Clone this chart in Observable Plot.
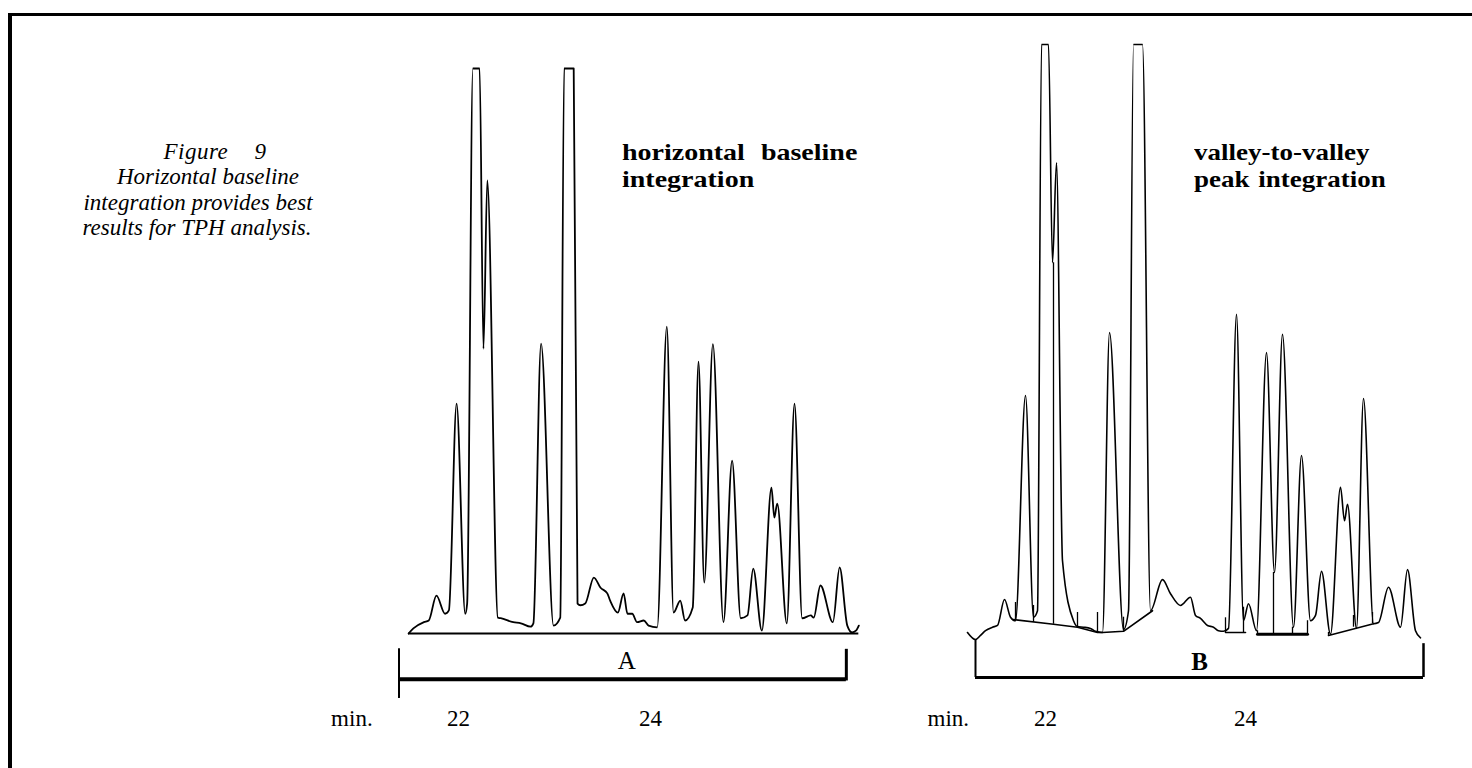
<!DOCTYPE html>
<html>
<head>
<meta charset="utf-8">
<script src="https://cdn.jsdelivr.net/npm/d3@7"></script>
<script src="https://cdn.jsdelivr.net/npm/@observablehq/plot@0.6"></script>
<style>
  html, body { margin: 0; padding: 0; background: #fff; }
  #page { position: relative; width: 1472px; height: 768px; overflow: hidden; background: #fff;
          font-family: "Liberation Serif", "Times New Roman", serif; color: #000; }
  .frame-left { position: absolute; left: 8px; top: 13px; width: 4px; height: 755px; background: #000; }
  .frame-top { position: absolute; left: 8px; top: 13px; width: 1464px; height: 3px; background: #000; }
  #caption { position: absolute; left: 0px; top: 139px; width: 406px; text-align: center;
             font-style: italic; font-size: 23px; line-height: 25.3px; }
  #caption div { position: relative; white-space: nowrap; }
  .heading { position: absolute; font-weight: bold; line-height: 30.6px; white-space: nowrap;
             transform: scaleY(0.85); transform-origin: 0 0; }
  .panel { position: absolute; left: 0; top: 0; }
</style>
</head>
<body>
<div id="page">
  <div class="frame-left"></div>
  <div class="frame-top"></div>
  <div id="caption">
    <div style="left:12px; letter-spacing:0.5px; word-spacing:20px;">Figure 9</div>
    <div style="left:5px;">Horizontal baseline</div>
    <div style="left:-5px;">integration provides best</div>
    <div style="left:-6px;">results for TPH analysis.</div>
  </div>
  <div class="heading" style="left:622px; top:140px; font-size:28px; word-spacing:9px;">horizontal baseline<br>integration</div>
  <div class="heading" style="left:1194px; top:140.3px; font-size:27px; word-spacing:2px;">valley-to-valley<br>peak integration</div>
</div>
<script>
// ---------- Panel A: horizontal baseline integration ----------
// retention time (min) and detector signal (% of full scale, 100 = off-scale)
const aTime = [21.48, 21.53, 21.64, 21.69, 21.77, 21.86, 21.90, 21.98, 22.07, 22.09,
  22.15, 22.22, 22.26, 22.30, 22.41, 22.44, 22.57, 22.65, 22.75, 22.78,
  22.86, 22.99, 23.06, 23.10, 23.20, 23.24, 23.27, 23.32, 23.41, 23.48,
  23.55, 23.58, 23.66, 23.72, 23.76, 23.81, 23.86, 23.93, 23.98, 24.07,
  24.17, 24.24, 24.31, 24.36, 24.44, 24.50, 24.56, 24.65, 24.76, 24.85,
  24.94, 25.01, 25.07, 25.16, 25.26, 25.29, 25.32, 25.42, 25.50, 25.58,
  25.67, 25.70, 25.77, 25.90, 25.97, 26.05, 26.10, 26.14, 26.17];
const aSignal = [0.0, 0.9, 2.0, 2.3, 6.7, 3.5, 4.1, 40.7, 3.5, 5.3,
  100, 100, 50.4, 80.2, 2.8, 2.7, 2.0, 1.8, 1.2, 1.8,
  51.3, 1.4, 2.8, 100, 100, 5.3, 5.0, 5.3, 9.9, 8.1,
  7.1, 5.8, 3.7, 7.1, 3.5, 3.5, 2.0, 2.3, 1.4, 1.1,
  54.3, 3.7, 5.8, 2.3, 4.6, 48.1, 9.0, 51.2, 2.0, 30.6,
  2.7, 3.2, 11.5, 0.5, 25.8, 20.5, 23.0, 1.8, 40.7, 2.7,
  3.2, 2.8, 8.5, 2.0, 11.7, 1.4, 0.2, 0.5, 1.4];
const aBaseline = [21.48, 26.17];          // horizontal baseline start / end (min)
const aBracket = [21.38, 26.04];           // integration window A (min)
const aBracketLabel = ["A"];
const aTicks = [22, 24];

// ---------- Panel B: valley-to-valley peak integration ----------
const bTime = [21.22, 21.30, 21.35, 21.40, 21.47, 21.52, 21.59, 21.65, 21.70, 21.80,
  21.88, 21.92, 21.96, 22.03, 22.07, 22.11, 22.17, 22.28, 22.32, 22.38,
  22.45, 22.50, 22.57, 22.64, 22.78, 22.83, 22.88, 22.97, 23.05, 23.17,
  23.25, 23.35, 23.45, 23.50, 23.55, 23.62, 23.68, 23.73, 23.78, 23.83,
  23.91, 23.98, 24.03, 24.11, 24.21, 24.29, 24.37, 24.48, 24.56, 24.65,
  24.70, 24.76, 24.85, 24.95, 24.99, 25.02, 25.11, 25.18, 25.28, 25.33,
  25.43, 25.55, 25.62, 25.70, 25.75];
const bSignal = [0.0, -1.2, -0.5, 0.3, 0.9, 1.2, 5.6, 2.6, 2.0, 40.3,
  2.6, 3.7, 100, 100, 62.9, 79.9, 12.2, 2.0, 1.0, 0.9,
  0.7, 0.2, 0.0, 51.0, 0.5, 3.7, 100, 100, 3.7, 9.0,
  6.6, 4.6, 6.0, 2.9, 2.4, 1.2, 0.9, 0.3, 0.2, 0.7,
  54.1, 2.0, 4.9, 0.3, 47.6, 10.2, 50.7, 0.9, 30.1, 2.0,
  2.9, 10.4, -0.3, 24.7, 19.0, 21.8, 0.7, 39.8, 1.5, 1.7,
  7.7, 0.9, 10.7, 0.3, -0.9];
// valley-to-valley baseline segments
const bBaseSegment = [1, 1, 1, 1, 1, 1, 1, 2, 2, 3, 3, 4, 4];
const bBaseTime = [21.68, 22.08, 22.32, 22.52, 22.57, 22.78, 23.07, 23.80, 24.00, 24.12, 24.62, 24.83, 25.28];
const bBaseSignal = [2.2, 1.4, 0.9, 0.0, 0.0, 0.2, 3.7, 0.0, 0.0, -0.3, -0.3, -0.5, 1.5];
// perpendicular drop lines from the baseline to the valleys
const bDropTime = [21.70, 21.88, 22.08, 22.32, 22.52, 22.78, 23.80, 23.98, 24.12, 24.28, 24.47, 24.62, 24.83, 25.08, 25.27];
const bDropLow = [2.2, 1.7, 1.4, 0.9, 0.0, 0.2, 0.0, 0.0, -0.3, -0.3, -0.3, -0.3, -0.5, 0.9, 1.5];
const bDropHigh = [5.1, 4.6, 62.9, 3.4, 3.4, 2.6, 2.5, 4.3, 0.3, 10.2, 0.9, 2.0, 0.0, 2.9, 3.4];
const bBracket = [21.30, 25.78];
const bBracketLabel = ["B"];
const bTicks = [22, 24];

const W = 1472, H = 768;
const font = '"Liberation Serif", "Times New Roman", serif';
const aTrace = aTime.map((t, i) => ({t, s: aSignal[i]}));
const bTrace = bTime.map((t, i) => ({t, s: bSignal[i]}));
const bBase = bBaseTime.map((t, i) => ({t, s: bBaseSignal[i], seg: bBaseSegment[i]}));
const bDrops = bDropTime.map((t, i) => ({t, lo: bDropLow[i], hi: bDropHigh[i]}));

const page = document.getElementById("page");

const plotA = Plot.plot({
  width: W, height: H,
  marginLeft: 395.6, marginRight: W - 866, marginTop: 68, marginBottom: H - 633,
  x: {domain: [21.35, 26.25], axis: null},
  y: {domain: [0, 100], axis: null},
  style: {background: "transparent", overflow: "visible", fontFamily: font, color: "#000"},
  marks: [
    Plot.ruleY([0], {x1: aBaseline[0], x2: aBaseline[1], stroke: "#000", strokeWidth: 2}),
    Plot.line(aTrace, {x: "t", y: "s", curve: "monotone-x", stroke: "#000", strokeWidth: 1.8, strokeLinejoin: "round"}),
    // integration window bracket
    Plot.ruleY([-8.1], {x1: aBracket[0], x2: aBracket[1], stroke: "#000", strokeWidth: 4}),
    Plot.ruleX([aBracket[0]], {y1: -2.7, y2: -11.5, stroke: "#000", strokeWidth: 2}),
    Plot.ruleX([aBracket[1]], {y1: -2.8, y2: -8.4, stroke: "#000", strokeWidth: 3}),
    Plot.text(aBracketLabel, {x: (aBracket[0] + aBracket[1]) / 2, y: -4.8, dx: 4, fontSize: 25, lineAnchor: "middle"}),
    // time axis labels
    Plot.text(aTicks, {x: d => d, text: d => String(d), frameAnchor: "bottom", lineAnchor: "top", dy: 76, fontSize: 23}),
    Plot.text(["min."], {frameAnchor: "bottom-left", textAnchor: "start", lineAnchor: "top", dx: -65, dy: 76, fontSize: 23})
  ]
});
plotA.classList.add("panel");
page.appendChild(plotA);

const plotB = Plot.plot({
  width: W, height: H,
  marginLeft: 965, marginRight: W - 1425, marginTop: 44, marginBottom: H - 632,
  x: {domain: [21.2, 25.8], axis: null},
  y: {domain: [0, 100], axis: null},
  style: {background: "transparent", overflow: "visible", fontFamily: font, color: "#000"},
  marks: [
    Plot.line(bBase, {x: "t", y: "s", z: "seg", stroke: "#000", strokeWidth: d => d.seg === 3 ? 3 : 1.6}),
    Plot.ruleX(bDrops, {x: "t", y1: "lo", y2: "hi", stroke: "#000", strokeWidth: 1.3}),
    Plot.line(bTrace, {x: "t", y: "s", curve: "monotone-x", stroke: "#000", strokeWidth: 1.6, strokeLinejoin: "round"}),
    // integration window bracket
    Plot.ruleY([-7.65], {x1: bBracket[0], x2: bBracket[1], stroke: "#000", strokeWidth: 3}),
    Plot.ruleX([bBracket[0]], {y1: -1.2, y2: -7.65, stroke: "#000", strokeWidth: 2}),
    Plot.ruleX([bBracket[1]], {y1: -1.9, y2: -7.65, stroke: "#000", strokeWidth: 2.5}),
    Plot.text(bBracketLabel, {x: (bBracket[0] + bBracket[1]) / 2, y: -5.1, fontSize: 25, fontWeight: "bold", lineAnchor: "middle"}),
    // time axis labels
    Plot.text(bTicks, {x: d => d, text: d => String(d), frameAnchor: "bottom", lineAnchor: "top", dy: 77, fontSize: 23}),
    Plot.text(["min."], {frameAnchor: "bottom-left", textAnchor: "start", lineAnchor: "top", dx: -38, dy: 77, fontSize: 23})
  ]
});
plotB.classList.add("panel");
page.appendChild(plotB);
</script>
</body>
</html>
